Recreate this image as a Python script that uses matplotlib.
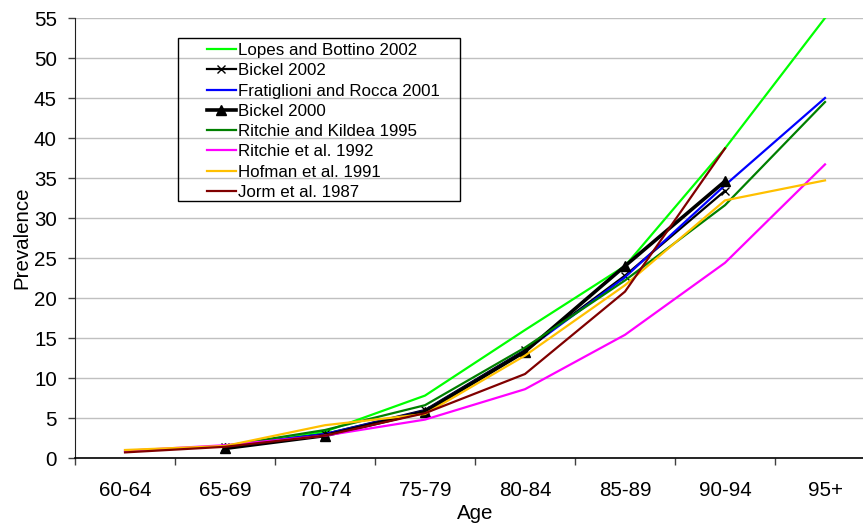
import numpy as np
import matplotlib
matplotlib.use("Agg")
import matplotlib.pyplot as plt
from matplotlib.patches import Rectangle

plt.rcParams['font.family'] = ['Liberation Sans', 'DejaVu Sans']

categories = ["60-64", "65-69", "70-74", "75-79", "80-84", "85-89", "90-94", "95+"]
nan = np.nan
lopes_2002 = [nan, 1.2, 3.3, 7.8, 16.0, 24.0, 38.7, 55.0]
bickel_2002 = [nan, 1.4, 3.0, 6.0, 13.5, 22.8, 33.4, nan]
fratiglioni_2001 = [nan, 1.5, 3.0, 5.9, 13.4, 22.6, 34.1, 45.0]
bickel_2000 = [nan, 1.2, 2.8, 5.8, 13.3, 24.0, 34.6, nan]
ritchie_kildea_1995 = [nan, 1.5, 3.5, 6.6, 13.8, 22.2, 31.6, 44.5]
ritchie_1992 = [0.9, 1.6, 2.8, 4.8, 8.6, 15.4, 24.4, 36.7]
hofman_1991 = [1.0, 1.5, 4.1, 5.5, 12.8, 21.6, 32.2, 34.7]
jorm_1987 = [0.7, 1.4, 2.8, 5.6, 10.5, 20.8, 38.7, nan]

series = [
    ("Lopes and Bottino 2002", lopes_2002, dict(color="#00FF00", lw=1.6)),
    ("Bickel 2002", bickel_2002, dict(color="black", lw=1.6, marker="x", ms=6, mew=1.0)),
    ("Fratiglioni and Rocca 2001", fratiglioni_2001, dict(color="#0000FF", lw=1.6)),
    ("Bickel 2000", bickel_2000, dict(color="black", lw=2.6, marker="^", ms=7.5)),
    ("Ritchie and Kildea 1995", ritchie_kildea_1995, dict(color="#008000", lw=1.6)),
    ("Ritchie et al. 1992", ritchie_1992, dict(color="#FF00FF", lw=1.6)),
    ("Hofman et al. 1991", hofman_1991, dict(color="#FFC000", lw=1.6)),
    ("Jorm et al. 1987", jorm_1987, dict(color="#800000", lw=1.6)),
]

W, H = 863, 525
fig = plt.figure(figsize=(W / 100, H / 100), dpi=100)
ax = fig.add_axes([75 / W, (H - 458) / H, 800 / W, 440 / H])

x = np.arange(len(categories))
handles = []
for name, vals, kw in series:
    h, = ax.plot(x, vals, label=name, solid_joinstyle="miter", **kw)
    handles.append(h)

ax.set_xlim(-0.5, len(categories) - 0.5)
ax.set_ylim(0, 55)
ax.set_yticks(np.arange(0, 56, 5))
ax.yaxis.grid(True, color="#c0c0c0", lw=1.0)
ax.set_axisbelow(True)

ax.set_xticks(np.arange(-0.5, len(categories) - 0.5, 1.0))
ax.set_xticklabels([])
ax.set_xticks(x, minor=True)
ax.set_xticklabels(categories, minor=True)
ax.tick_params(axis="x", which="major", length=5, width=1, color="#404040", direction="out")
ax.tick_params(axis="x", which="minor", length=0, labelsize=14.8, pad=16.5)
ax.tick_params(axis="y", length=5, width=1, color="#404040", labelsize=14.8, pad=8)

for s in ["top", "right"]:
    ax.spines[s].set_visible(False)
ax.spines["left"].set_color("#202020")
ax.spines["bottom"].set_color("black")
ax.spines["bottom"].set_linewidth(1.2)

ax.set_xlabel("Age", fontsize=14.8, labelpad=3)
ax.set_ylabel("Prevalence", fontsize=14.8, labelpad=2)

leg = fig.legend(handles=handles, loc="upper left",
                 bbox_to_anchor=(207 / W, 1 - 43 / H), frameon=False,
                 fontsize=12.2, handlelength=1.7, handletextpad=0.15,
                 labelspacing=0.31, borderpad=0, borderaxespad=0)
fig.patches.append(Rectangle((178 / W, 1 - 201 / H), (460 - 178) / W, (201 - 38) / H,
                             transform=fig.transFigure, fill=False,
                             edgecolor="black", lw=1.0, zorder=3))

fig.savefig("out.png", dpi=100)
